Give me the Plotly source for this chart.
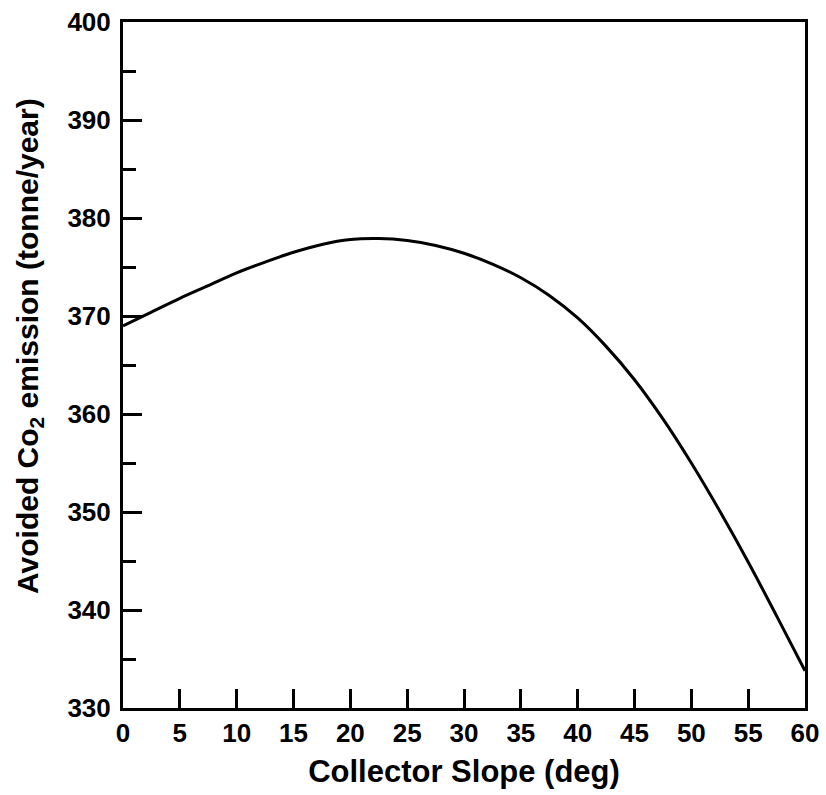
import plotly.graph_objects as go

slope_deg = [0, 2.5, 5, 7.5, 10, 12.5, 15, 17.5, 20, 22.5, 25, 27.5, 30, 32.5, 35, 37.5, 40, 42.5, 45, 47.5, 50, 52.5, 55, 57.5, 60]
avoided_co2 = [369.0, 370.4, 371.8, 373.1, 374.4, 375.5, 376.5, 377.3, 377.8, 377.9, 377.7, 377.2, 376.4, 375.3, 373.9, 372.1, 369.8, 366.9, 363.5, 359.5, 355.0, 350.1, 344.9, 339.4, 333.8]

x_ticks = [0, 5, 10, 15, 20, 25, 30, 35, 40, 45, 50, 55, 60]
y_ticks = [330, 340, 350, 360, 370, 380, 390, 400]

x_title = "<b>Collector Slope (deg)</b>"
y_title = "<b>Avoided Co<sub>2</sub> emission (tonne/year)</b>"

FONT = "Liberation Sans, Arial, sans-serif"

fig = go.Figure()
fig.add_trace(go.Scatter(
    x=slope_deg, y=avoided_co2, mode="lines",
    line=dict(color="black", width=3, shape="spline", smoothing=1.0),
    showlegend=False, hoverinfo="skip",
))

fig.update_layout(
    width=826, height=795,
    margin=dict(l=123, r=21, t=22, b=87),
    paper_bgcolor="white", plot_bgcolor="white",
    font=dict(family=FONT, color="black"),
)

fig.update_xaxes(
    range=[0, 60], tickvals=x_ticks, ticktext=[str(v) for v in x_ticks],
    ticks="inside", ticklen=19, tickwidth=3, tickcolor="black",
    showline=True, linewidth=3, linecolor="black", mirror=True,
    showgrid=False, zeroline=False, automargin=False,
    tickfont=dict(family=FONT, size=26, color="black", weight="bold"),
    title=dict(text=x_title, standoff=14,
               font=dict(family=FONT, size=31, color="black")),
)

fig.update_yaxes(
    range=[330, 400], tickvals=y_ticks, ticktext=[str(v) for v in y_ticks],
    ticks="inside", ticklen=19, tickwidth=3, tickcolor="black",
    minor=dict(dtick=5, ticks="inside", ticklen=13, tickwidth=3, tickcolor="black", showgrid=False),
    showline=True, linewidth=3, linecolor="black", mirror=True,
    showgrid=False, zeroline=False, automargin=False,
    ticklabelstandoff=4,
    tickfont=dict(family=FONT, size=26, color="black", weight="bold"),
)

fig.add_annotation(
    text=y_title, textangle=-90, showarrow=False,
    xref="paper", yref="paper", x=-0.1364, y=0.5277,
    xanchor="center", yanchor="middle",
    font=dict(family=FONT, size=30, color="black"),
)

fig.write_html(
    "out.html",
    config={"displayModeBar": False},
    post_script="document.body.style.margin='0';document.body.style.overflow='hidden';",
)
